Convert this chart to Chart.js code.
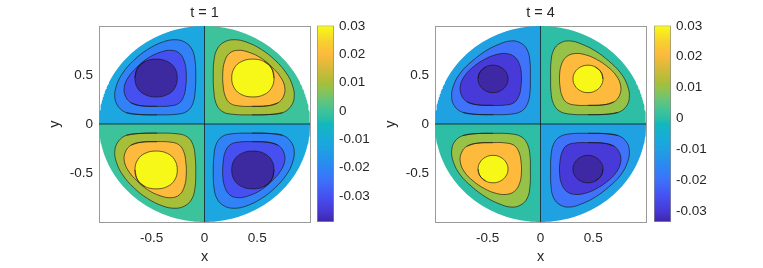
<!DOCTYPE html>
<html><head><meta charset="utf-8">
<script src="https://cdn.jsdelivr.net/npm/chart.js@4/dist/chart.umd.min.js"></script>
<style>
html,body{margin:0;padding:0;background:#fff;}
#wrap{position:relative;width:763px;height:268px;overflow:hidden;background:#fff;}
canvas{position:absolute;top:0;}
</style></head><body>
<div id="wrap">
<canvas id="c1" width="330" height="268" style="left:0px"></canvas>
<canvas id="cb1" width="80" height="268" style="left:300px"></canvas>
<canvas id="c2" width="330" height="268" style="left:336px"></canvas>
<canvas id="cb2" width="80" height="268" style="left:637px"></canvas>
</div>
<script>
// ---------- data ----------
const panelTitles = ['t = 1', 't = 4'];
const axisTicks = [-0.5, 0, 0.5];
const axisTickLabels = ['-0.5', '0', '0.5'];
const colorbarTicks = [-0.03, -0.02, -0.01, 0, 0.01, 0.02, 0.03];
const colorbarTickLabels = ['-0.03', '-0.02', '-0.01', '0', '0.01', '0.02', '0.03'];
const colorbarRangeT1 = [-0.0391, 0.0301];
const colorbarRangeT4 = [-0.0335, 0.0301];
const diskRadius = 1;

// contour lines of the positive lobe in the x>0, y>0 quadrant (other lobes are mirror images)
// t = 1
const t1OuterX = [0.45, 0.62, 0.74, 0.815, 0.85, 0.835, 0.775, 0.67, 0.54, 0.40, 0.28, 0.185, 0.12, 0.09, 0.083, 0.088, 0.11, 0.165, 0.26];
const t1OuterY = [0.093, 0.097, 0.115, 0.175, 0.27, 0.39, 0.52, 0.65, 0.76, 0.835, 0.86, 0.835, 0.765, 0.65, 0.50, 0.34, 0.21, 0.13, 0.10];
const t1MiddleX = [0.45, 0.60, 0.695, 0.75, 0.76, 0.72, 0.64, 0.54, 0.42, 0.315, 0.235, 0.19, 0.173, 0.177, 0.198, 0.245, 0.33];
const t1MiddleY = [0.18, 0.186, 0.215, 0.285, 0.38, 0.48, 0.58, 0.67, 0.732, 0.752, 0.72, 0.635, 0.52, 0.39, 0.28, 0.21, 0.184];
const t1InnerX = [0.659, 0.634, 0.565, 0.4585, 0.352, 0.283, 0.258, 0.283, 0.352, 0.4585, 0.565, 0.634];
const t1InnerY = [0.469, 0.572, 0.638, 0.662, 0.638, 0.572, 0.469, 0.366, 0.300, 0.276, 0.300, 0.366];
// t = 4
const t4OuterX = [0.45, 0.62, 0.735, 0.81, 0.842, 0.825, 0.76, 0.65, 0.52, 0.39, 0.275, 0.185, 0.125, 0.10, 0.096, 0.10, 0.122, 0.175, 0.27];
const t4OuterY = [0.095, 0.099, 0.118, 0.175, 0.27, 0.39, 0.52, 0.64, 0.745, 0.815, 0.848, 0.825, 0.755, 0.64, 0.47, 0.32, 0.21, 0.135, 0.102];
const t4MiddleX = [0.45, 0.60, 0.695, 0.75, 0.76, 0.72, 0.64, 0.53, 0.42, 0.32, 0.245, 0.198, 0.181, 0.185, 0.205, 0.25, 0.335];
const t4MiddleY = [0.19, 0.196, 0.225, 0.295, 0.39, 0.49, 0.58, 0.66, 0.708, 0.718, 0.685, 0.605, 0.50, 0.38, 0.285, 0.218, 0.193];
const t4InnerX = [0.592, 0.573, 0.521, 0.45, 0.379, 0.327, 0.308, 0.327, 0.379, 0.45, 0.521, 0.573];
const t4InnerY = [0.46, 0.53, 0.581, 0.60, 0.581, 0.53, 0.46, 0.39, 0.339, 0.32, 0.339, 0.39];

// ---------- styles ----------
const FONT = "'Liberation Sans', Arial, Helvetica, sans-serif";
const textColor = '#262626';
const boxColor = '#9a9a9a';
const contourColor = 'rgba(20,20,20,0.8)';
const zeroColor = 'rgba(10,25,35,0.8)';
const bandsT1 = { pos: ['#3dc39b', '#a6be3a', '#fdba3c', '#f7f718'], neg: ['#1ca7e0', '#3082f6', '#4650f0', '#3e2aa0'] };
const bandsT4 = { pos: ['#2ebea6', '#97c248', '#fdba3c', '#f7f718'], neg: ['#1fa1e2', '#3e73fa', '#483ad8', '#3e28a3'] };
const parulaStops = [
  [0.00, '#3e26a8'], [0.05, '#4637d2'], [0.128, '#4650f0'], [0.209, '#3e70fa'],
  [0.273, '#2e84f5'], [0.367, '#1ea0e2'], [0.419, '#19aadb'], [0.50, '#12b8bd'],
  [0.525, '#28bea8'], [0.564, '#3ec39a'], [0.62, '#66c47a'], [0.684, '#97c248'],
  [0.709, '#a8be3a'], [0.78, '#d6b93a'], [0.855, '#fcbb3c'], [0.92, '#f6d22e'], [1.00, '#f9fb15']
];

Chart.defaults.font.family = FONT;
Chart.defaults.color = textColor;

// closed loop: repeat the first three vertices so the seam is smoothed like the rest
function loopPoints(xs, ys, sx, sy) {
  const pts = xs.map((x, i) => ({ x: sx * x, y: sy * ys[i] }));
  return pts.concat(pts.slice(0, 3));
}
function quarterDisk(sx, sy) {
  const pts = [{ x: 0, y: 0 }];
  for (let k = 0; k <= 90; k++) {
    const a = k * Math.PI / 180;
    pts.push({ x: sx * diskRadius * Math.cos(a), y: sy * diskRadius * Math.sin(a) });
  }
  pts.push({ x: 0, y: 0 });
  return pts;
}

function makePanel(id, title, contours, bands) {
  const quads = [
    { sx: 1, sy: 1, c: bands.pos }, { sx: -1, sy: 1, c: bands.neg },
    { sx: -1, sy: -1, c: bands.pos }, { sx: 1, sy: -1, c: bands.neg }
  ];
  const datasets = [];
  quads.forEach(q => {
    datasets.push({ data: quarterDisk(q.sx, q.sy), backgroundColor: q.c[0], borderColor: 'rgba(0,0,0,0)',
      borderWidth: 0, fill: 'shape', tension: 0, order: 100, pointRadius: 0, showLine: true });
    contours.forEach((ct, i) => {
      datasets.push({ data: loopPoints(ct[0], ct[1], q.sx, q.sy), backgroundColor: q.c[i + 1],
        borderColor: contourColor, borderWidth: 0.8, fill: 'shape', tension: 0.4,
        order: 90 - i * 10, pointRadius: 0, showLine: true });
    });
  });
  datasets.push({ data: [{ x: 0, y: -diskRadius }, { x: 0, y: diskRadius }], borderColor: zeroColor,
    borderWidth: 1, order: 0, pointRadius: 0, showLine: true, fill: false });
  datasets.push({ data: [{ x: -diskRadius, y: 0 }, { x: diskRadius, y: 0 }], borderColor: zeroColor,
    borderWidth: 1, order: 0, pointRadius: 0, showLine: true, fill: false });

  const tickFont = { family: FONT, size: 13.5 };
  const setTicks = s => { s.ticks = axisTicks.map(v => ({ value: v })); };
  new Chart(document.getElementById(id), {
    type: 'scatter',
    data: { datasets },
    options: {
      responsive: false, animation: false, devicePixelRatio: 1,
      layout: { padding: { left: 0, right: 20, top: 0, bottom: 0 } },
      plugins: {
        legend: { display: false }, tooltip: { enabled: false },
        title: { display: true, text: title, fullSize: false, color: textColor,
          font: { family: FONT, size: 14.5, weight: 'normal' }, padding: { top: 4, bottom: 4.6 } }
      },
      scales: {
        x: { type: 'linear', position: 'bottom', min: -1, max: 1,
          grid: { display: false, drawTicks: false }, border: { display: true, color: boxColor, width: 1 },
          ticks: { padding: 8, font: tickFont, color: textColor, autoSkip: false, maxRotation: 0,
            callback: (v, i) => axisTickLabels[i] },
          afterBuildTicks: setTicks, afterFit: s => { s.height = 46; },
          title: { display: true, text: 'x', color: textColor, font: { family: FONT, size: 14.5 }, padding: { top: 0, bottom: 2 } } },
        y: { type: 'linear', position: 'left', min: -1, max: 1,
          grid: { display: false, drawTicks: false }, border: { display: true, color: boxColor, width: 1 },
          ticks: { padding: 6, font: tickFont, color: textColor, autoSkip: false,
            callback: (v, i) => axisTickLabels[i] },
          afterBuildTicks: setTicks, afterFit: s => { s.width = 99; },
          title: { display: true, text: 'y', color: textColor, font: { family: FONT, size: 14.5 }, padding: { top: 46.3, bottom: 0 } } },
        x2: { type: 'linear', position: 'top', min: -1, max: 1, grid: { display: false, drawTicks: false },
          ticks: { display: false }, border: { display: true, color: boxColor, width: 1 },
          afterFit: s => { s.height = 0; } },
        y2: { type: 'linear', position: 'right', min: -1, max: 1, grid: { display: false, drawTicks: false },
          ticks: { display: false }, border: { display: true, color: boxColor, width: 1 },
          afterFit: s => { s.width = 0; } }
      }
    }
  });
}

function parulaGradient(chart) {
  const a = chart.chartArea;
  if (!a) return '#888';
  const g = chart.ctx.createLinearGradient(0, a.bottom, 0, a.top);
  parulaStops.forEach(s => g.addColorStop(s[0], s[1]));
  return g;
}

function makeColorbar(id, range) {
  new Chart(document.getElementById(id), {
    type: 'bar',
    data: { labels: [''], datasets: [{ data: [range], backgroundColor: ctx => parulaGradient(ctx.chart),
      borderColor: '#8c8c8c', borderWidth: 1, borderSkipped: false, barPercentage: 1, categoryPercentage: 1 }] },
    options: {
      responsive: false, animation: false, devicePixelRatio: 1,
      layout: { padding: { left: 17, right: 0, top: 25.5, bottom: 46 } },
      plugins: { legend: { display: false }, tooltip: { enabled: false } },
      scales: {
        x: { display: false },
        y: { position: 'right', min: range[0], max: range[1], grid: { display: false, drawTicks: false }, border: { display: false },
          ticks: { padding: 5, font: { family: FONT, size: 13.5 }, color: textColor, autoSkip: false,
            callback: (v, i) => colorbarTickLabels[i] },
          afterBuildTicks: s => { s.ticks = colorbarTicks.map(v => ({ value: v })); },
          afterFit: s => { s.width = 46; } }
      }
    }
  });
}

makePanel('c1', panelTitles[0], [[t1OuterX, t1OuterY], [t1MiddleX, t1MiddleY], [t1InnerX, t1InnerY]], bandsT1);
makeColorbar('cb1', colorbarRangeT1);
makePanel('c2', panelTitles[1], [[t4OuterX, t4OuterY], [t4MiddleX, t4MiddleY], [t4InnerX, t4InnerY]], bandsT4);
makeColorbar('cb2', colorbarRangeT4);
</script>
</body></html>
